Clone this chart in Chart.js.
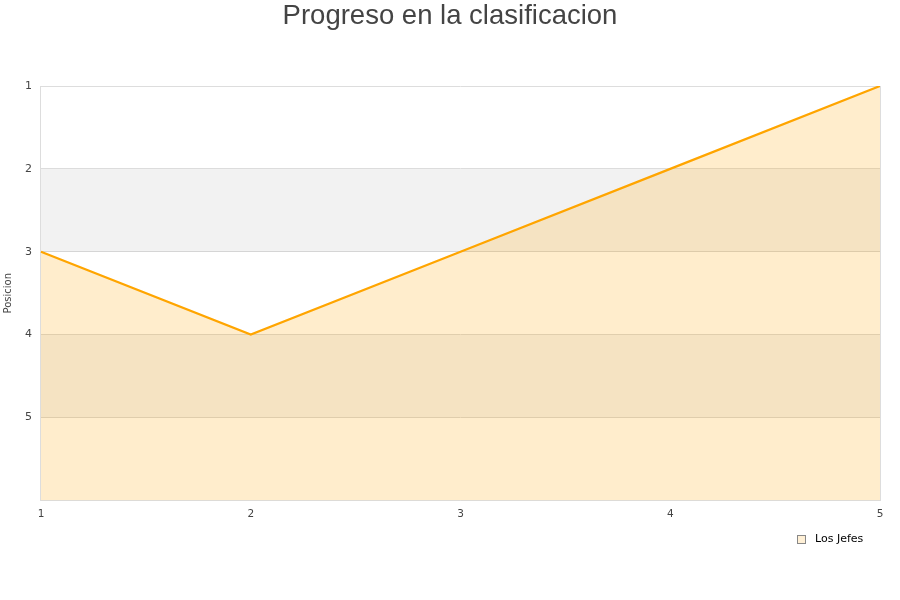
<!DOCTYPE html>
<html>
<head>
<meta charset="utf-8">
<script src="https://cdn.jsdelivr.net/npm/chart.js@4/dist/chart.umd.min.js"></script>
<style>
  html, body { margin: 0; padding: 0; background: #fff; }
  #wrap { width: 900px; height: 600px; }
</style>
</head>
<body>
<div id="wrap"><canvas id="chart" width="900" height="600"></canvas></div>
<script>
const jornadas = ["1", "2", "3", "4", "5"];
const posiciones = [3, 4, 3, 2, 1];
const bandas = [[2, 3], [4, 5]];
const titulo = "Progreso en la clasificacion";
const serie = "Los Jefes";

const bandPlugin = {
  id: "bands",
  beforeDatasetsDraw(chart) {
    const { ctx, chartArea: a, scales: { y } } = chart;
    ctx.save();
    ctx.fillStyle = "rgba(0,0,0,0.05)";
    for (const [from, to] of bandas) {
      const y1 = y.getPixelForValue(from), y2 = y.getPixelForValue(to);
      ctx.fillRect(a.left, Math.min(y1, y2), a.right - a.left, Math.abs(y2 - y1));
    }
    ctx.restore();
  }
};

// title centred on the canvas, legend at bottom right, right edge line
const decoPlugin = {
  id: "deco",
  afterDatasetsDraw(chart) {
    const { ctx, chartArea: a } = chart;
    ctx.save();
    ctx.strokeStyle = "#ddd";
    ctx.lineWidth = 1;
    ctx.beginPath();
    ctx.moveTo(a.right + 0.5, a.top);
    ctx.lineTo(a.right + 0.5, a.bottom);
    ctx.stroke();

    ctx.fillStyle = "#444";
    ctx.font = "27.5px 'Liberation Sans', Arial, sans-serif";
    ctx.textAlign = "center";
    ctx.textBaseline = "middle";
    ctx.fillText(titulo, chart.width / 2, 16.5);

    ctx.fillStyle = "#fff0d6";
    ctx.fillRect(797.5, 535.5, 8, 8);
    ctx.strokeStyle = "#888";
    ctx.strokeRect(797.5, 535.5, 8, 8);
    ctx.fillStyle = "#000";
    ctx.font = "11px 'DejaVu Sans'";
    ctx.textAlign = "left";
    ctx.fillText(serie, 815, 539.5);
    ctx.restore();
  }
};

new Chart(document.getElementById("chart"), {
  type: "line",
  data: {
    labels: jornadas,
    datasets: [{
      label: serie,
      data: posiciones,
      borderColor: "#FFA500",
      backgroundColor: "rgba(255,165,0,0.2)",
      borderWidth: 2.2,
      pointRadius: 0,
      fill: "start",
      tension: 0
    }]
  },
  options: {
    responsive: false,
    animation: false,
    layout: { padding: { left: 0, right: 20, top: 86, bottom: 71 } },
    plugins: {
      title: { display: false },
      legend: { display: false },
      tooltip: { enabled: false }
    },
    scales: {
      x: {
        offset: false,
        grid: { display: false, drawTicks: false },
        border: { color: "#ddd" },
        ticks: { color: "#444", font: { family: "DejaVu Sans", size: 10.5 }, padding: 8, maxRotation: 0 }
      },
      y: {
        reverse: true,
        min: 1,
        max: 6,
        grid: { color: "#ddd", drawTicks: false },
        border: { color: "#ddd" },
        ticks: {
          stepSize: 1,
          color: "#444",
          font: { family: "DejaVu Sans", size: 11 },
          padding: 9,
          callback: (v) => (v < 6 ? v : "")
        },
        title: {
          display: true,
          text: "Posicion",
          color: "#444",
          font: { family: "DejaVu Sans", size: 10 },
          padding: { top: 2, bottom: 2 }
        }
      }
    }
  },
  plugins: [bandPlugin, decoPlugin]
});
</script>
</body>
</html>
